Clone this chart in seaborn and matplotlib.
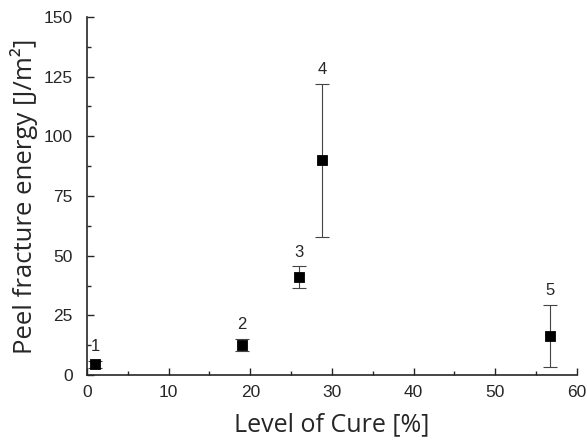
import numpy as np
import pandas as pd
import matplotlib.pyplot as plt
import seaborn as sns
from matplotlib.ticker import MultipleLocator

# số liệu
cure = [1, 19, 26, 28.8, 56.7]
energy = [4.5, 12.5, 41.0, 90.0, 16.5]
err = [1.5, 2.5, 4.5, 32.0, 13.0]
labels = ['1', '2', '3', '4', '5']

df = pd.DataFrame({'cure': cure, 'energy': energy, 'err': err, 'label': labels})

sns.set_style('ticks')
plt.rcParams['font.family'] = ['Liberation Sans', 'DejaVu Sans']

fig = plt.figure(figsize=(5.87, 4.44), dpi=100)
ax = fig.add_axes([0.148, 0.155, 0.835, 0.807])

# thanh sai số
ax.errorbar(df['cure'], df['energy'], yerr=df['err'], fmt='none',
            ecolor='#444444', elinewidth=0.8, capsize=5, capthick=0.8, zorder=1)
sns.scatterplot(data=df, x='cure', y='energy', marker='s', color='black',
                s=55, edgecolor='black', ax=ax, zorder=2, legend=False)

# nhãn số trên mỗi điểm
for _, r in df.iterrows():
    ax.annotate(r['label'], (r['cure'], r['energy'] + r['err']),
                xytext=(0, 5), textcoords='offset points',
                ha='center', va='bottom', fontsize=12)

ax.set_xlim(0, 60)
ax.set_ylim(0, 150)
ax.xaxis.set_major_locator(MultipleLocator(10))
ax.xaxis.set_minor_locator(MultipleLocator(5))
ax.yaxis.set_major_locator(MultipleLocator(25))
ax.yaxis.set_minor_locator(MultipleLocator(12.5))
ax.tick_params(which='both', direction='in', width=1, labelsize=12.5)
ax.tick_params(which='major', length=5)
ax.tick_params(which='minor', length=3)
ax.tick_params(axis='y', pad=10)
ax.tick_params(axis='x', pad=7)
sns.despine(ax=ax)
for s in ['left', 'bottom']:
    ax.spines[s].set_linewidth(1.2)

ax.set_xlabel('Level of Cure [%]', fontsize=18, family='Open Sans', labelpad=9)
ax.set_ylabel('Peel fracture energy [J/m²]', fontsize=18.5, family='Open Sans', labelpad=4)

fig.savefig('out.png', dpi=100)
